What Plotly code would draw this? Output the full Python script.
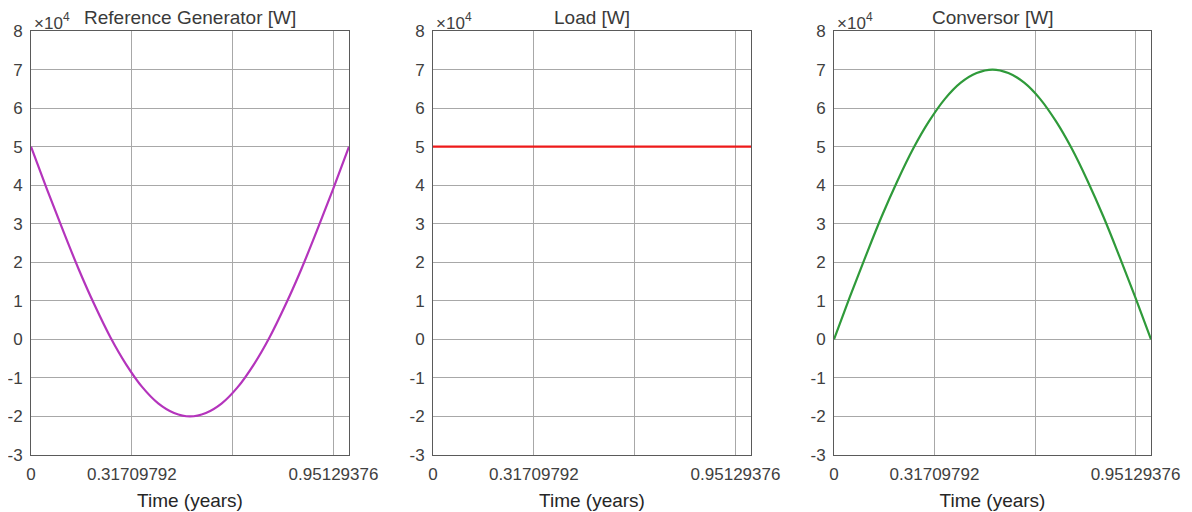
import plotly.graph_objects as go

# Time samples (years)
time_years = [0.00, 0.05, 0.10, 0.15, 0.20, 0.25, 0.30, 0.35, 0.40, 0.45, 0.50,
              0.55, 0.60, 0.65, 0.70, 0.75, 0.80, 0.85, 0.90, 0.95, 1.00]
# Reference Generator [W]
generator_w = [50000, 39000, 28400, 18200, 8900, 500, -6600, -12400, -16600, -19100, -20000,
               -19100, -16600, -12400, -6600, 500, 8900, 18200, 28400, 39000, 50000]
# Load [W]
load_w = [50000] * 21
# Conversor [W]
conversor_w = [0, 11000, 21600, 31800, 41100, 49500, 56600, 62400, 66600, 69100, 70000,
               69100, 66600, 62400, 56600, 49500, 41100, 31800, 21600, 11000, 0]

titles = ["Reference Generator [W]", "Load [W]", "Conversor [W]"]
series = [generator_w, load_w, conversor_w]
colors = ["#b434bc", "#ee1a1a", "#2f9a3a"]

x_tickvals = [0, 0.31709792, 0.63419584, 0.95129376]
x_ticktext = ["0", "0.31709792", "", "0.95129376"]
y_tickvals = [v * 10000 for v in range(-3, 9)]
y_ticktext = [str(v) for v in range(-3, 9)]

# page has an 8px body margin: figure is offset by OFF pixels
OFF = 8
W, H = 1192 - OFF, 512 - OFF
px_x = [(31, 349), (433, 751), (834, 1151)]
top_px, bot_px = 31, 455


def fx(p):
    return (p - OFF) / W


def fy(p):
    return 1 - (p - OFF) / H


fig = go.Figure()
font_fam = "Liberation Sans, Arial, sans-serif"
tick_col = "#404040"

for i in range(3):
    xa = "x" if i == 0 else f"x{i+1}"
    ya = "y" if i == 0 else f"y{i+1}"
    fig.add_trace(go.Scatter(x=time_years, y=series[i], mode="lines",
                             line=dict(color=colors[i], width=2.2, shape="spline"),
                             xaxis=xa, yaxis=ya, showlegend=False, hoverinfo="skip"))
    x0, x1 = px_x[i]
    xkey = "xaxis" if i == 0 else f"xaxis{i+1}"
    ykey = "yaxis" if i == 0 else f"yaxis{i+1}"
    fig.layout[xkey] = dict(
        domain=[fx(x0), fx(x1)], range=[0, 1], anchor=ya, automargin=False,
        tickvals=x_tickvals, ticktext=x_ticktext,
        showgrid=True, gridcolor="#a8a8a8", gridwidth=1,
        showline=True, linecolor="#5a5a5a", linewidth=1, mirror=True,
        zeroline=False, ticks="outside", ticklen=4, tickcolor="rgba(0,0,0,0)",
        tickfont=dict(size=17, color=tick_col, family=font_fam),
        title=dict(text="Time (years)", font=dict(size=19, color="#262626", family=font_fam), standoff=10),
    )
    fig.layout[ykey] = dict(
        domain=[fy(bot_px), fy(top_px)], range=[-30000, 80000], anchor=xa, automargin=False,
        tickvals=y_tickvals, ticktext=y_ticktext,
        showgrid=True, gridcolor="#a8a8a8", gridwidth=1,
        showline=True, linecolor="#5a5a5a", linewidth=1, mirror=True,
        zeroline=False, ticks="outside", ticklen=4, tickcolor="rgba(0,0,0,0)",
        tickfont=dict(size=17, color=tick_col, family=font_fam),
    )
    fig.add_annotation(text=titles[i], xref="paper", yref="paper",
                       x=fx((x0 + x1) / 2), y=fy(17), xanchor="center", yanchor="middle",
                       showarrow=False, font=dict(size=19, color="#3a3a3a", family=font_fam))
    # exponent label "×10^4" drawn as base + superscript
    fig.add_annotation(text="×10", xref="paper", yref="paper",
                       x=fx(x0 + 1), y=fy(23), xanchor="left", yanchor="middle",
                       showarrow=False, font=dict(size=17, color=tick_col, family=font_fam))
    fig.add_annotation(text="4", xref="paper", yref="paper",
                       x=fx(x0 + 30), y=fy(17), xanchor="left", yanchor="middle",
                       showarrow=False, font=dict(size=12, color=tick_col, family=font_fam))

fig.update_layout(width=W, height=H, margin=dict(l=0, r=0, t=0, b=0, autoexpand=False),
                  plot_bgcolor="white", paper_bgcolor="white")

fig.write_html("out.html")
